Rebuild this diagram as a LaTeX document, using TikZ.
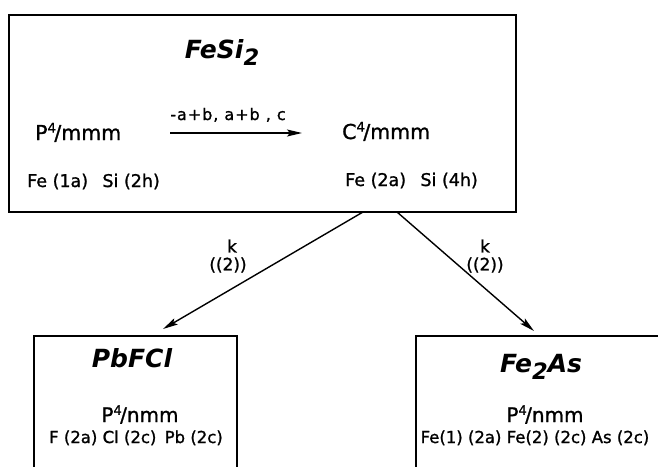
\documentclass[tikz,border=0pt]{standalone}
\usepackage{fontspec}
\setmainfont{DejaVu Sans}
\newfontfamily\heavy[FakeBold=1.2]{DejaVu Sans}
\usepackage{graphicx}
\usetikzlibrary{arrows.meta}
\newcommand\grp[2]{#1\raisebox{0.36em}{\scalebox{0.65}{4}}\kern-0.08em/#2}
\newcommand\lowr[1]{\raisebox{-0.3em}{\scalebox{0.9}{#1}}}
\begin{document}
\begin{tikzpicture}[x=1pt,y=-1pt,
 frame/.style={draw, line width=1.6pt, inner sep=0pt, anchor=north west},
 title/.style={font=\fontsize{25}{29}\selectfont\bfseries\itshape, inner sep=0pt, anchor=base},
 grpname/.style={font=\fontsize{20.5}{24}\selectfont\heavy, inner sep=0pt, anchor=base west},
 grpc/.style={font=\fontsize{20}{24}\selectfont\heavy, inner sep=0pt, anchor=base},
 atoms/.style={font=\fontsize{17.5}{20}\selectfont\heavy, inner sep=0pt, anchor=base west},
 atomsc/.style={font=\fontsize{16.5}{19}\selectfont\heavy, inner sep=0pt, anchor=base},
 lab/.style={font=\fontsize{17}{20}\selectfont\heavy, inner sep=0pt},
 trlab/.style={font=\fontsize{16}{19}\selectfont\heavy\addfontfeature{LetterSpace=6}, inner sep=0pt, anchor=base},
 conn/.style={line width=1.4pt, -{Stealth[length=15pt,width=7pt,inset=3pt]}}]
\clip (0,0) rectangle (658,466);
% top box
\node[frame, minimum width=507pt, minimum height=197pt] (top) at (8,14) {};
\node[title] (fesi) at (222,58) {FeSi\lowr{2}};
\node[grpname] (p4) at (35,140) {\grp{P}{mmm}};
\node[grpname] (c4) at (342,139) {\grp{C}{mmm}};
\node[atoms] (at1) at (27,187) {Fe (1a)\enspace\ Si (2h)};
\node[atoms] (at2) at (345,186) {Fe (2a)\enspace\ Si (4h)};
\coordinate (a1) at (170,133);
\coordinate (a2) at (302,133);
\draw[conn] (a1) -- (a2);
\node[trlab] (tr) at (228,120) {-a+b, a+b , c};
% connectors
\coordinate (s1) at (363,212);
\coordinate (e1) at (163,329);
\coordinate (s2) at (397,212);
\coordinate (e2) at (534,331);
\draw[conn] (s1) -- (e1);
\draw[conn] (s2) -- (e2);
\node[lab] (k1) at (232,246) {k};
\node[lab] (m1) at (228,265) {((2))};
\node[lab] (k2) at (485,246) {k};
\node[lab] (m2) at (485,265) {((2))};
% bottom boxes
\node[frame, minimum width=203pt, minimum height=160pt] (pb) at (33,335) {};
\node[title] (pbfcl) at (132,367) {PbFCl};
\node[grpc] (p4a) at (140,422) {\grp{P}{nmm}};
\node[atomsc] (at3) at (136,443) {F (2a) Cl (2c)\enspace Pb (2c)};
\node[frame, minimum width=300pt, minimum height=160pt] (fa) at (415,335) {};
\node[title] (fe2as) at (541,372) {Fe\lowr{2}As};
\node[grpc] (p4b) at (545,422) {\grp{P}{nmm}};
\node[atomsc] (at4) at (535,443) {Fe(1) (2a) Fe(2) (2c) As (2c)};
\end{tikzpicture}
\end{document}
